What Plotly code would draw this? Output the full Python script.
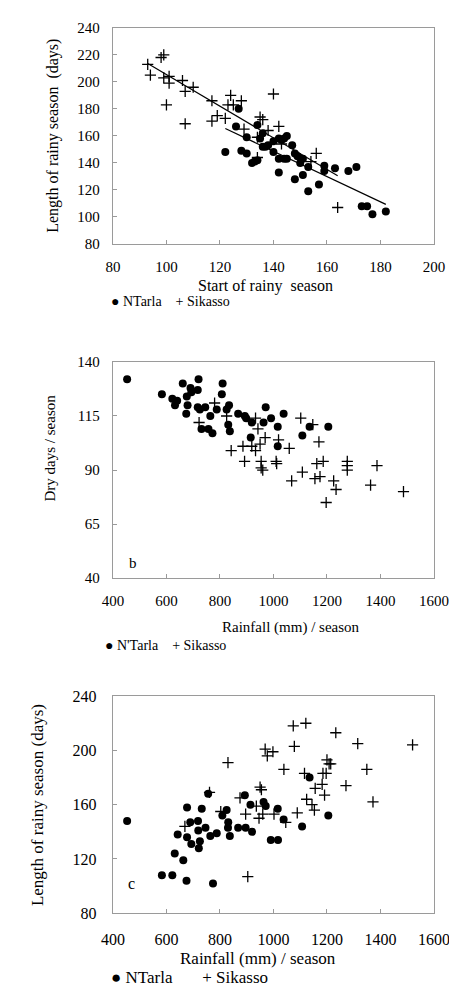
import numpy as np
import plotly.graph_objects as go

W, H = 457, 988

# ---------------- Data ----------------
# Panel a: start of rainy season vs length of rainy season
a_ntarla_start = [122, 127, 126, 128, 130, 130, 132, 134, 134, 135, 136, 136, 138, 140, 140,
                  142, 143, 145, 144, 142, 144, 145, 142, 147, 148, 149, 150, 151, 148, 151,
                  153, 153, 157, 159, 159, 163, 168, 171, 173, 175, 177, 182, 137, 133]
a_ntarla_length = [148, 180, 167, 149, 147, 159, 140, 142, 168, 158, 162, 152, 153, 148, 156,
                   158, 157, 160, 158, 143, 143, 143, 133, 153, 147, 145, 140, 143, 128, 131,
                   137, 119, 124, 138, 134, 136, 134, 137, 108, 108, 102, 104, 152, 141]
a_sikasso_start = [93, 94, 98, 99, 99, 101, 101, 100, 106, 107, 110, 107, 117, 117, 119, 122,
                   123, 124, 125, 128, 129, 135, 136, 138, 134, 134, 140, 142, 143, 156, 154, 164]
a_sikasso_length = [213, 205, 218, 220, 203, 204, 199, 183, 201, 193, 196, 169, 186, 171, 175, 173,
                    183, 190, 183, 186, 165, 174, 172, 164, 159, 144, 191, 167, 154, 147, 141, 107]
# Linear trend lines of panel a (end points)
a_sikasso_trend_x = [93, 164]
a_sikasso_trend_y = [213.5, 130.5]
a_ntarla_trend_x = [122, 182]
a_ntarla_trend_y = [165.5, 109.3]

# Panel b: rainfall vs dry days
b_ntarla_rain = [453, 583, 622, 640, 632, 661, 676, 690, 693, 720, 717, 679, 674, 717, 725, 745,
                 731, 757, 772, 764, 788, 810, 807, 825, 834, 831, 837, 868, 893, 898, 919, 915,
                 963, 971, 991, 1016, 1016, 1038, 1108, 1135, 1205]
b_ntarla_dry = [132, 125, 123, 122, 120, 130, 124, 128, 126, 132, 127, 120, 116, 119, 118, 119,
                109, 109, 107, 115, 118, 130, 125, 118, 120, 111, 108, 116, 115, 114, 112, 105,
                112, 119, 114, 110, 101, 116, 106, 110, 110]
b_sikasso_rain = [780, 722, 825, 842, 886, 892, 919, 933, 933, 942, 950, 969, 954, 954, 960,
                  1010, 1012, 1019, 1059, 1068, 1102, 1108, 1147, 1170, 1162, 1186, 1155, 1174,
                  1197, 1225, 1234, 1276, 1276, 1276, 1387, 1363, 1486]
b_sikasso_dry = [121, 112, 115, 99, 101, 94, 101, 114, 99, 109, 102, 105, 94, 91, 90,
                 94, 93, 104, 100, 85, 114, 89, 111, 103, 93, 94, 86, 87,
                 75, 85, 81, 94, 92, 90, 92, 83, 80]

# Panel c: rainfall vs length of rainy season
c_ntarla_rain = [453, 583, 622, 631, 642, 663, 675, 677, 677, 689, 693, 718, 719, 721, 725, 732,
                 746, 756, 764, 774, 788, 809, 825, 831, 830, 837, 868, 893, 896, 914, 920, 963,
                 971, 990, 1016, 1017, 1038, 1107, 1135, 1205]
c_ntarla_length = [148, 108, 108, 124, 138, 119, 104, 158, 136, 147, 131, 148, 141, 128, 133, 157,
                   143, 168, 137, 102, 139, 152, 156, 147, 143, 137, 143, 167, 143, 160, 140, 162,
                   159, 134, 157, 134, 149, 144, 180, 152]
c_sikasso_rain = [669, 761, 803, 830, 875, 896, 904, 936, 946, 950, 955, 960, 969, 977, 998, 1002,
                  1039, 1046, 1074, 1078, 1089, 1121, 1116, 1124, 1144, 1153, 1156, 1182, 1185,
                  1197, 1191, 1200, 1208, 1214, 1233, 1271, 1315, 1349, 1372, 1520]
c_sikasso_length = [144, 169, 155, 191, 165, 153, 107, 159, 150, 173, 171, 153, 201, 196, 199, 153,
                    186, 147, 218, 203, 154, 220, 183, 164, 160, 156, 172, 175, 183,
                    183, 167, 193, 190, 190, 213, 174, 205, 186, 162, 204]

# ---------------- Figure ----------------
fig = go.Figure()

dot = dict(symbol="circle", size=8, color="black")
plus = dict(symbol="cross-thin-open", size=8, color="black", line=dict(color="black", width=1.3))


def refs(axis):
    return ("x", "y") if axis == 1 else (f"x{axis}", f"y{axis}")


def add_series(xa, ya, xs, ys, axis):
    xr, yr = refs(axis)
    fig.add_trace(go.Scatter(x=xa, y=ya, mode="markers", marker=dot, xaxis=xr, yaxis=yr,
                             showlegend=False, name="NTarla"))
    fig.add_trace(go.Scatter(x=xs, y=ys, mode="markers", marker=plus, xaxis=xr, yaxis=yr,
                             showlegend=False, name="Sikasso"))


def add_trend(xv, yv, axis):
    xr, yr = refs(axis)
    fig.add_trace(go.Scatter(x=xv, y=yv, mode="lines", line=dict(color="black", width=1.2),
                             xaxis=xr, yaxis=yr, showlegend=False, hoverinfo="skip"))


add_series(a_ntarla_start, a_ntarla_length, a_sikasso_start, a_sikasso_length, 1)
add_trend(a_sikasso_trend_x, a_sikasso_trend_y, 1)
add_trend(a_ntarla_trend_x, a_ntarla_trend_y, 1)
add_series(b_ntarla_rain, b_ntarla_dry, b_sikasso_rain, b_sikasso_dry, 2)
add_series(c_ntarla_rain, c_ntarla_length, c_sikasso_rain, c_sikasso_length, 3)

FONT = "Liberation Serif, Times New Roman, serif"
GRAY = "#9a9a9a"


def px_dom_x(l, r):
    return [l / W, r / W]


def px_dom_y(top, bot):
    return [1 - bot / H, 1 - top / H]


def axis_style(rng, dtick, dom, anchor, fsize, standoff):
    return dict(range=rng, dtick=dtick, tick0=rng[0], domain=dom, anchor=anchor,
                showgrid=False, zeroline=False, showline=True, linecolor=GRAY, linewidth=1.3,
                mirror=True, ticks="inside", ticklen=4, tickcolor=GRAY, tickwidth=1,
                tickfont=dict(family=FONT, size=fsize, color="black"),
                ticklabelstandoff=standoff, fixedrange=True)


xd = px_dom_x(99, 441)
fig.update_layout(
    xaxis=axis_style([80, 200], 20, xd, "y", 15, 9),
    yaxis=axis_style([80, 240], 20, px_dom_y(12, 232), "x", 15, 9),
    xaxis2=axis_style([400, 1600], 200, xd, "y2", 15, 9),
    yaxis2=axis_style([40, 140], 25, px_dom_y(352, 572), "x2", 15, 9),
    xaxis3=axis_style([400, 1600], 200, xd, "y3", 16, 11),
    yaxis3=axis_style([80, 240], 40, px_dom_y(692, 913), "x3", 16, 12),
)


def ann(text, px, py, size, angle=0, xanchor="center"):
    fig.add_annotation(text=text, x=px / W, y=1 - py / H, xref="paper", yref="paper",
                       showarrow=False, textangle=angle, xanchor=xanchor, yanchor="middle",
                       font=dict(family=FONT, size=size, color="black"))


# Panel a texts
ann("Length of rainy season  (days)", 35, 122, 16, -90)
ann("Start of rainy  season", 262, 275, 16)
ann("● NTarla    + Sikasso", 95, 291, 14, xanchor="left")
# Panel b texts
ann("Dry days / season", 32, 440, 15, -90)
ann("Rainfall (mm) / season", 289, 622, 15)
ann("● N'Tarla    + Sikasso", 88, 641, 14, xanchor="left")
ann("b", 120, 557, 15)
# Panel c texts
ann("Length of rainy season (days)", 18, 803, 17, -90)
ann("Rainfall (mm) / season", 254, 959, 17)
ann("● NTarla       + Sikasso", 95, 978, 17, xanchor="left")
ann("c", 119, 883, 16)

fig.update_layout(width=W, height=H, margin=dict(l=0, r=0, t=0, b=0),
                  paper_bgcolor="white", plot_bgcolor="white", showlegend=False)

fig.write_html("out.html", config={"displayModeBar": False})
